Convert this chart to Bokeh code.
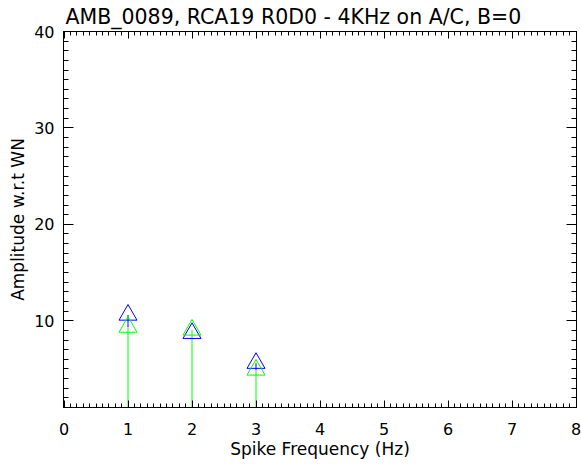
from bokeh.plotting import figure
from bokeh.models import Range1d, FixedTicker, LinearAxis
from bokeh.embed import file_html
from bokeh.resources import INLINE

# Data
freq = [1, 2, 3]
amp_blue = [10.6, 8.7, 5.6]
amp_green = [9.35, 9.05, 4.9]
stem_base = 0
x_major = [0, 1, 2, 3, 4, 5, 6, 7, 8]
x_minor = [i / 10 for i in range(0, 81)]
y_major = [10, 20, 30, 40]
y_minor = list(range(1, 41))
y_start, y_end = 1, 40
x_start, x_end = 0, 8

FONT = "DejaVu Sans"
HALF_PX = (x_end - x_start) / 512 / 2  # half a pixel, so 1px stems render crisp

p = figure(width=568, height=460, frame_width=513, frame_height=376,
           output_backend="svg", toolbar_location=None,
           x_range=Range1d(x_start - HALF_PX, x_end + HALF_PX), y_range=Range1d(y_start, y_end),
           x_axis_location=None, y_axis_location=None,
           margin=(0, 0, 0, 5),
           min_border_left=50, min_border_right=5, min_border_top=25, min_border_bottom=55)

p.title.text = "AMB_0089, RCA19 R0D0 - 4KHz on A/C, B=0"
p.title.text_font = FONT
p.title.text_font_size = "20.5px"
p.title.text_font_style = "normal"
p.title.text_color = "black"
p.title.align = "left"
p.title.offset = 2
p.title.standoff = 5

p.xgrid.visible = False
p.ygrid.visible = False
p.outline_line_color = "black"
p.background_fill_color = "white"
p.border_fill_color = "white"


def style(ax, label_size, major_len, minor_len, show_labels):
    ax.axis_line_color = "black"
    ax.major_tick_line_color = "black"
    ax.minor_tick_line_color = "black"
    ax.major_tick_in = major_len
    ax.major_tick_out = 0
    ax.minor_tick_in = minor_len
    ax.minor_tick_out = 0
    ax.major_label_text_font = FONT
    ax.major_label_text_color = "black"
    ax.axis_label_text_font = FONT
    ax.axis_label_text_font_style = "normal"
    ax.axis_label_text_color = "black"
    if show_labels:
        ax.major_label_text_font_size = label_size
        ax.axis_label_text_font_size = "17px"
    else:
        ax.major_label_text_font_size = "0px"
        ax.major_label_standoff = 0


xt = FixedTicker(ticks=x_major, minor_ticks=x_minor)
yt = FixedTicker(ticks=y_major, minor_ticks=y_minor)

xb = LinearAxis(ticker=xt, axis_label="Spike Frequency (Hz)")
style(xb, "16px", 7, 4, True)
xb.major_label_standoff = 15
xb.axis_label_standoff = 1
p.add_layout(xb, "below")

xa = LinearAxis(ticker=xt)
style(xa, "16px", 7, 4, False)
p.add_layout(xa, "above")

yl = LinearAxis(ticker=yt, axis_label="Amplitude w.r.t WN")
style(yl, "16px", 10, 5, True)
yl.major_label_standoff = 9
yl.axis_label_standoff = 3
p.add_layout(yl, "left")

yr = LinearAxis(ticker=yt)
style(yr, "16px", 10, 5, False)
p.add_layout(yr, "right")

# stems: green full length, blue only where it rises above the green one
blue_stem_base = [min(b, g) for b, g in zip(amp_blue, amp_green)]
p.segment(x0=freq, y0=[stem_base] * len(freq), x1=freq, y1=amp_green, line_color="#00ff00", line_width=1)
p.segment(x0=freq, y0=blue_stem_base, x1=freq, y1=amp_blue, line_color="#0000ff", line_width=1)

# triangles
p.scatter(freq, amp_blue, marker="triangle", size=18, fill_color=None, line_color="#0000ff", line_width=1)
p.scatter(freq, amp_green, marker="triangle", size=18, fill_color=None, line_color="#00ff00", line_width=1)

open("out.html", "w").write(file_html(p, INLINE))
